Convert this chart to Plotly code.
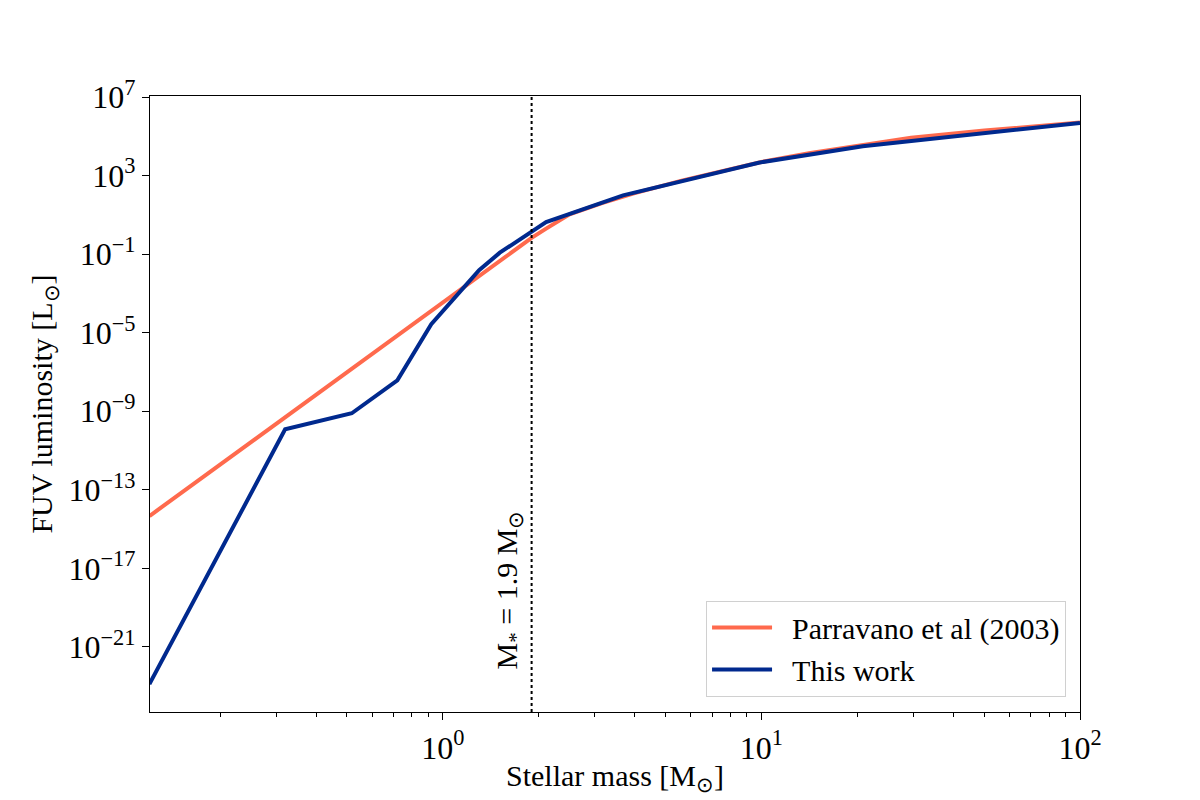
import plotly.graph_objects as go

# Parravano et al (2003) curve
parr_mass = [0.12, 1.9, 2.11, 2.5, 3.16, 3.98, 5.62, 7.94, 10.0, 14.1, 20.0, 29.5, 50.1, 100.0]
parr_lum = [4.6e-15, 6.8e-01, 2.0e+00, 1.07e+01, 4.0e+01, 1.26e+02, 5.6e+02, 2.0e+03,
            5.0e+03, 1.41e+04, 3.2e+04, 8.5e+04, 2.0e+05, 5.1e+05]

# this work
work_mass = [0.12, 0.32, 0.518, 0.72, 0.92, 1.30, 1.51, 2.11, 3.68, 9.8, 20.8, 100.0]
work_lum = [1.26e-23, 1.2e-10, 7.9e-10, 3.8e-08, 2.7e-05, 1.55e-02, 1.2e-01, 4.3e+00,
            1.0e+02, 4.6e+03, 3.2e+04, 4.9e+05]

m_cut = 1.9

ytick_vals = [1e-21, 1e-17, 1e-13, 1e-9, 1e-5, 1e-1, 1e3, 1e7]
ytick_text = ['10<sup>\u221221</sup>', '10<sup>\u221217</sup>', '10<sup>\u221213</sup>',
              '10<sup>\u22129</sup>', '10<sup>\u22125</sup>', '10<sup>\u22121</sup>',
              '10<sup>3</sup>', '10<sup>7</sup>']
xtick_vals = [1, 10, 100]
xtick_text = ['10<sup>0</sup>', '10<sup>1</sup>', '10<sup>2</sup>']
xminor = [0.2, 0.3, 0.4, 0.5, 0.6, 0.7, 0.8, 0.9, 2, 3, 4, 5, 6, 7, 8, 9,
          20, 30, 40, 50, 60, 70, 80, 90]

font_name = 'Liberation Serif'
nb = '\u00a0\u00a0'

fig = go.Figure()

fig.add_trace(go.Scatter(x=parr_mass, y=parr_lum, mode='lines', name=nb + 'Parravano et al (2003)',
                         line=dict(color='#ff6a4d', width=4)))
fig.add_trace(go.Scatter(x=work_mass, y=work_lum, mode='lines', name=nb + 'This work',
                         line=dict(color='#00298e', width=4)))

fig.add_shape(type='line', xref='x', yref='paper', x0=m_cut, x1=m_cut, y0=0, y1=1,
              line=dict(color='black', width=2, dash='dot'))

fig.add_annotation(x=0.2788, xref='x', y=0.066, yref='paper', text='M<sub>*</sub> = 1.9 M<sub>\u2299</sub>',
                   textangle=-90, showarrow=False, xanchor='right', yanchor='bottom', xshift=-2,
                   font=dict(size=30, color='black', family=font_name))

fig.update_layout(
    width=1200, height=800,
    paper_bgcolor='white', plot_bgcolor='white',
    margin=dict(l=142, r=128, t=88, b=96),
    font=dict(family=font_name, size=30, color='black'),
    showlegend=True,
    legend=dict(x=0.985, y=0.025, xanchor='right', yanchor='bottom',
                bgcolor='rgba(255,255,255,0.8)', bordercolor='#d0d0d0', borderwidth=1,
                font=dict(size=30, family=font_name), itemwidth=60,
                tracegroupgap=4),
    xaxis=dict(type='log', range=[-0.919, 2.0], showgrid=False, zeroline=False,
               showline=True, linecolor='black', linewidth=1.2, mirror=True,
               ticks='outside', ticklen=7, tickwidth=1.2, tickcolor='black',
               tickvals=xtick_vals, ticktext=xtick_text, tickfont=dict(size=32),
               minor=dict(tickvals=xminor, ticks='outside', ticklen=4, tickwidth=1, tickcolor='black'),
               title=dict(text='Stellar mass [M<sub>\u2299</sub>]', standoff=0,
                          font=dict(size=30, family=font_name))),
    yaxis=dict(type='log', range=[-24.32, 7.06], showgrid=False, zeroline=False,
               showline=True, linecolor='black', linewidth=1.2, mirror=True,
               ticks='outside', ticklen=7, tickwidth=1.2, tickcolor='black',
               tickvals=ytick_vals, ticktext=ytick_text, tickfont=dict(size=32),
               title=dict(text='FUV luminosity [L<sub>\u2299</sub>]', standoff=6,
                          font=dict(size=30, family=font_name))),
)

fig.write_html("out.html")
